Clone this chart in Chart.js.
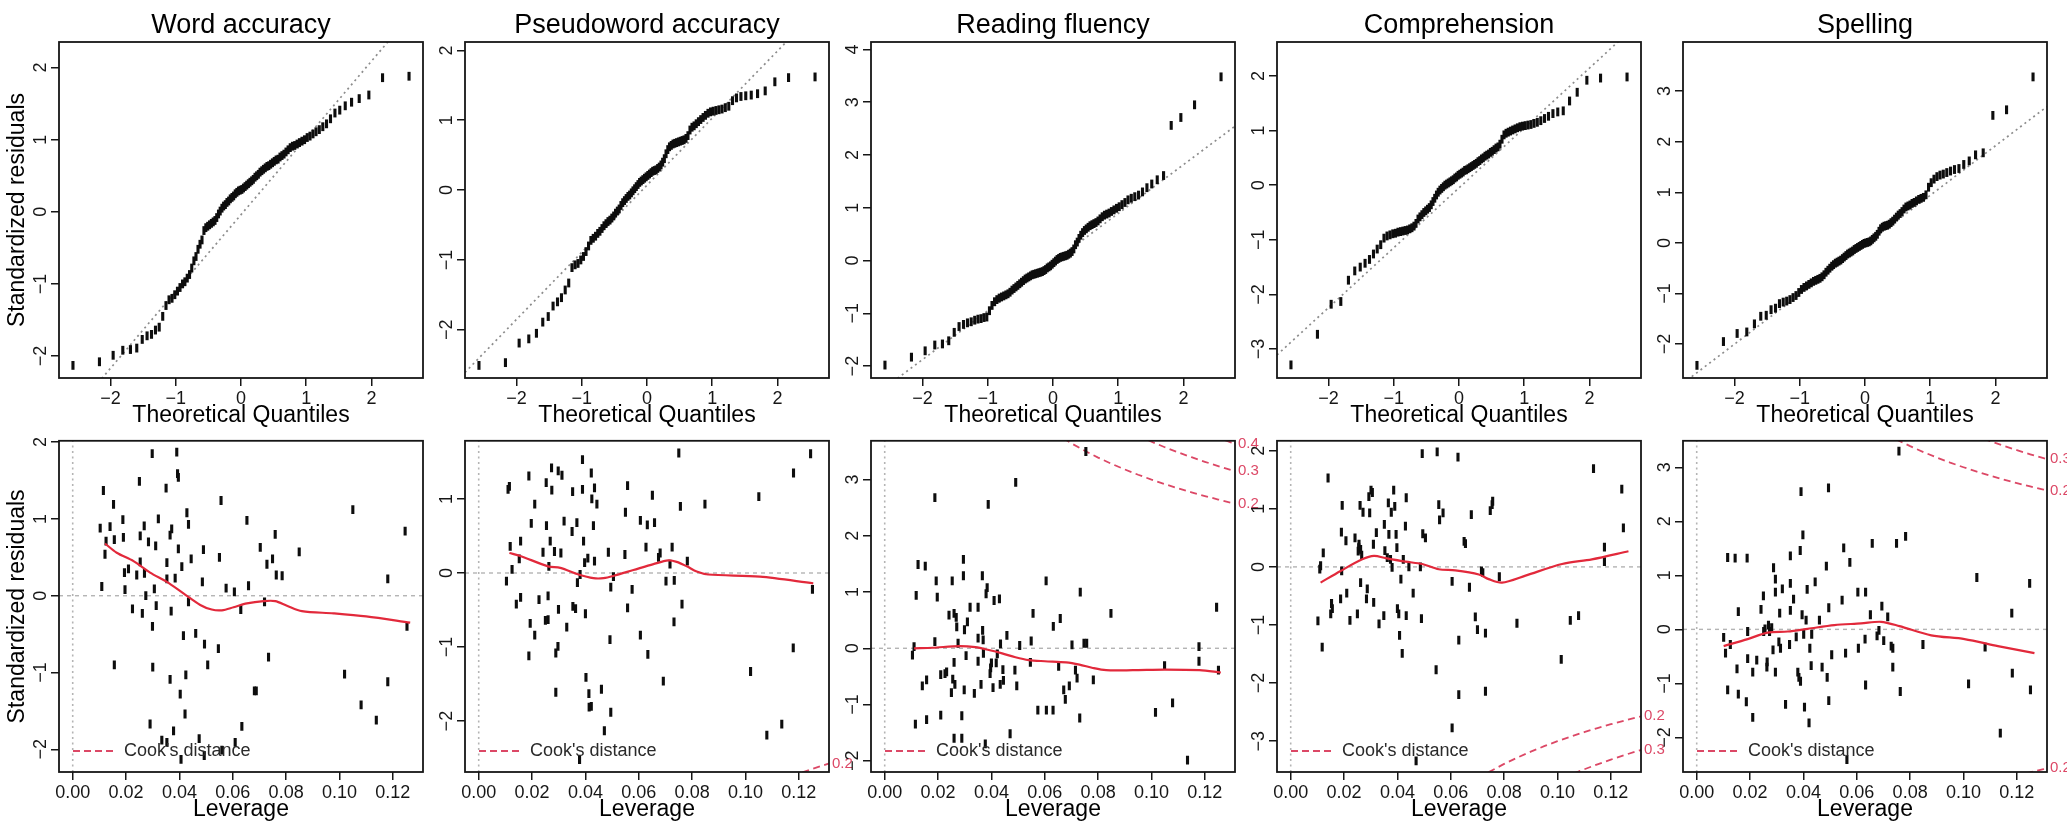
<!DOCTYPE html>
<html><head><meta charset="utf-8">
<script src="https://cdn.jsdelivr.net/npm/chart.js@4.4.0/dist/chart.umd.min.js"></script>
<style>
html,body{margin:0;padding:0;background:#fff;}
#wrap{position:relative;width:2067px;height:830px;overflow:hidden;background:#fff;}
#wrap canvas{position:absolute;}
</style></head>
<body><div id="wrap"></div>
<script>
// ---------- categories / labels ----------
const titles = ['Word accuracy','Pseudoword accuracy','Reading fluency','Comprehension','Spelling'];
const qqXTitle = 'Theoretical Quantiles';
const levXTitle = 'Leverage';
const yTitle = 'Standardized residuals';
const qqXTicks = [-2,-1,0,1,2];
const levXTicks = [0,0.02,0.04,0.06,0.08,0.10,0.12];
const qqYTicks = [[-2,-1,0,1,2],[-2,-1,0,1,2],[-2,-1,0,1,2,3,4],[-3,-2,-1,0,1,2],[-2,-1,0,1,2,3]];
const levYTicks = [[-2,-1,0,1,2],[-2,-1,0,1],[-2,-1,0,1,2,3],[-3,-2,-1,0,1,2],[-2,-1,0,1,2,3]];
const qqXRange = [-2.79,2.79];
const levXRange = [-0.00514,0.1313];
const qqYRange = [[-2.305,2.355],[-2.69,2.12],[-2.225,4.14],[-3.53,2.62],[-2.67,3.97]];
const levYRange = [[-2.295,2.017],[-2.687,1.785],[-2.20,3.69],[-3.53,2.17],[-2.64,3.49]];

// ---------- Q-Q data ----------
const theoQ = [-2.576,-2.170,-1.960,-1.812,-1.695,-1.598,-1.514,-1.440,-1.372,-1.311,-1.254,-1.200,-1.150,-1.103,-1.058,-1.015,-0.974,-0.935,-0.896,-0.860,-0.824,-0.789,-0.755,-0.722,-0.690,-0.659,-0.628,-0.598,-0.568,-0.539,-0.510,-0.482,-0.454,-0.426,-0.399,-0.372,-0.345,-0.319,-0.292,-0.266,-0.240,-0.215,-0.189,-0.164,-0.138,-0.113,-0.088,-0.063,-0.038,-0.013,
0.013,0.038,0.063,0.088,0.113,0.138,0.164,0.189,0.215,0.240,0.266,0.292,0.319,0.345,0.372,0.399,0.426,0.454,0.482,0.510,0.539,0.568,0.598,0.628,0.659,0.690,0.722,0.755,0.789,0.824,0.860,0.896,0.935,0.974,1.015,1.058,1.103,1.150,1.200,1.254,1.311,1.372,1.440,1.514,1.598,1.695,1.812,1.960,2.170,2.576];

const qqWord = [-2.13,-2.08,-1.99,-1.92,-1.91,-1.89,-1.77,-1.72,-1.70,-1.64,
-1.60,-1.45,-1.30,-1.22,-1.20,-1.15,-1.10,-1.05,-1.00,-0.97,
-0.92,-0.87,-0.78,-0.68,-0.62,-0.52,-0.45,-0.39,-0.26,-0.22,
-0.20,-0.18,-0.16,-0.14,-0.12,-0.08,-0.03,0.01,0.05,0.08,
0.10,0.13,0.15,0.18,0.20,0.22,0.25,0.27,0.29,0.30,
0.31,0.33,0.35,0.37,0.39,0.41,0.43,0.45,0.48,0.50,
0.52,0.55,0.57,0.59,0.61,0.63,0.64,0.66,0.68,0.70,
0.72,0.73,0.76,0.78,0.80,0.83,0.86,0.89,0.91,0.92,
0.94,0.96,0.98,1.00,1.03,1.05,1.08,1.11,1.14,1.18,
1.22,1.29,1.37,1.41,1.47,1.52,1.57,1.62,1.86,1.88];

const qqPseudo = [-2.51,-2.47,-2.19,-2.13,-2.05,-1.89,-1.81,-1.66,-1.60,-1.54,
-1.43,-1.33,-1.11,-1.07,-1.05,-1.00,-0.95,-0.88,-0.80,-0.72,
-0.69,-0.66,-0.62,-0.59,-0.55,-0.51,-0.48,-0.45,-0.43,-0.40,
-0.37,-0.33,-0.30,-0.27,-0.22,-0.18,-0.15,-0.12,-0.09,-0.07,
-0.04,-0.01,0.02,0.05,0.08,0.11,0.13,0.15,0.17,0.19,
0.21,0.23,0.25,0.27,0.28,0.29,0.31,0.33,0.36,0.40,
0.45,0.52,0.58,0.62,0.64,0.66,0.67,0.68,0.69,0.70,
0.71,0.72,0.74,0.78,0.86,0.90,0.92,0.95,0.98,1.01,
1.04,1.07,1.10,1.12,1.13,1.14,1.15,1.16,1.18,1.20,
1.28,1.32,1.34,1.35,1.36,1.38,1.42,1.55,1.61,1.62];

const qqFluency = [-1.98,-1.83,-1.71,-1.60,-1.58,-1.52,-1.36,-1.25,-1.21,-1.18,
-1.16,-1.13,-1.11,-1.10,-1.08,-1.07,-0.95,-0.85,-0.78,-0.74,
-0.71,-0.69,-0.67,-0.65,-0.63,-0.60,-0.56,-0.53,-0.50,-0.47,
-0.44,-0.41,-0.38,-0.35,-0.33,-0.31,-0.29,-0.27,-0.26,-0.25,
-0.24,-0.23,-0.22,-0.21,-0.19,-0.17,-0.14,-0.12,-0.10,-0.07,
-0.04,-0.01,0.02,0.04,0.06,0.07,0.08,0.09,0.10,0.12,
0.14,0.17,0.22,0.30,0.35,0.42,0.48,0.53,0.57,0.60,
0.63,0.66,0.68,0.70,0.72,0.75,0.79,0.83,0.86,0.88,
0.90,0.93,0.96,0.99,1.02,1.06,1.10,1.15,1.18,1.21,
1.24,1.30,1.38,1.45,1.53,1.61,2.56,2.71,2.95,3.48];

const qqComp = [-3.29,-2.73,-2.18,-2.13,-1.74,-1.57,-1.50,-1.43,-1.36,-1.26,
-1.17,-1.09,-0.97,-0.93,-0.91,-0.89,-0.88,-0.86,-0.85,-0.84,
-0.83,-0.82,-0.80,-0.78,-0.75,-0.70,-0.62,-0.58,-0.54,-0.50,
-0.47,-0.44,-0.41,-0.36,-0.30,-0.24,-0.18,-0.13,-0.09,-0.06,
-0.03,0.00,0.02,0.04,0.06,0.08,0.10,0.13,0.15,0.18,
0.20,0.22,0.24,0.27,0.28,0.30,0.32,0.34,0.36,0.38,
0.40,0.43,0.45,0.48,0.50,0.53,0.55,0.57,0.60,0.62,
0.65,0.68,0.70,0.75,0.84,0.92,0.95,0.97,0.99,1.01,
1.03,1.05,1.07,1.08,1.09,1.10,1.11,1.13,1.15,1.18,
1.22,1.26,1.31,1.34,1.36,1.54,1.70,1.92,1.96,1.98];

const qqSpell = [-2.42,-1.95,-1.79,-1.76,-1.60,-1.45,-1.43,-1.32,-1.29,-1.20,
-1.17,-1.15,-1.12,-1.08,-1.04,-0.98,-0.92,-0.88,-0.85,-0.82,
-0.79,-0.76,-0.74,-0.72,-0.70,-0.67,-0.63,-0.58,-0.54,-0.50,
-0.46,-0.43,-0.40,-0.38,-0.36,-0.34,-0.31,-0.28,-0.25,-0.22,
-0.20,-0.18,-0.16,-0.13,-0.11,-0.09,-0.07,-0.05,-0.03,-0.01,
0.00,0.01,0.02,0.04,0.07,0.10,0.13,0.17,0.23,0.28,
0.31,0.33,0.34,0.35,0.37,0.40,0.43,0.47,0.51,0.55,
0.58,0.62,0.67,0.71,0.73,0.75,0.78,0.80,0.83,0.86,
0.88,0.90,0.95,1.10,1.19,1.26,1.31,1.34,1.36,1.39,
1.42,1.45,1.47,1.55,1.62,1.74,1.78,2.52,2.63,3.28];

// reference lines of the Q-Q plots (two end points each)
const qqLineWord = [[-2.79,-3.01],[2.79,2.93]];
const qqLinePseudo = [[-2.79,-2.61],[2.79,2.75]];
const qqLineFluency = [[-2.79,-2.605],[2.79,2.545]];
const qqLineComp = [[-2.79,-3.108],[2.79,3.008]];
const qqLineSpell = [[-2.79,-2.774],[2.79,2.694]];

// ---------- Residuals vs leverage data [leverage, std. residual] ----------
const levWord = [[0.0103,0.88],[0.0109,0.12],[0.0115,1.37],[0.0121,0.54],[0.0125,0.71],[0.014,0.90],[0.0153,1.19],[0.0156,0.73],[0.0156,-0.90],[0.0188,0.99],[0.019,0.76],[0.0194,0.30],[0.0196,0.08],[0.0209,0.35],[0.0224,-0.17],[0.024,0.27],[0.025,1.49],[0.0253,0.78],[0.0253,0.44],[0.0261,-0.23],[0.0268,0.91],[0.0269,0.29],[0.0274,0.0],[0.0284,0.70],[0.029,-1.67],[0.0298,1.85],[0.0299,-0.40],[0.03,-0.93],[0.0306,0.09],[0.0311,0.65],[0.0313,-0.13],[0.0321,1.0],[0.0334,-1.88],[0.035,1.40],[0.0353,0.43],[0.0353,0.22],[0.0353,-1.91],[0.0365,0.79],[0.0369,-0.20],[0.0371,0.87],[0.0365,-1.09],[0.0378,-1.76],[0.0384,0.23],[0.039,1.87],[0.0393,1.59],[0.0396,1.54],[0.0396,0.61],[0.0403,-1.28],[0.0406,-2.13],[0.0409,0.38],[0.0415,-0.52],[0.0421,-1.54],[0.0424,-1.03],[0.0428,1.08],[0.0434,0.93],[0.0434,-0.08],[0.0444,0.48],[0.0461,-0.49],[0.0474,-1.86],[0.0486,0.18],[0.049,0.60],[0.0494,-0.63],[0.0493,-2.08],[0.0506,-0.90],[0.0546,-0.69],[0.055,0.50],[0.0556,1.24],[0.0559,-2.01],[0.0575,0.10],[0.0606,0.05],[0.0609,-1.91],[0.063,-0.18],[0.0634,-1.70],[0.0653,0.98],[0.0659,0.13],[0.0681,-1.24],[0.0688,-1.24],[0.0703,0.63],[0.0719,-0.08],[0.0728,0.41],[0.0734,-0.80],[0.0749,0.48],[0.0759,0.80],[0.0763,0.27],[0.0785,0.26],[0.0849,0.57],[0.1019,-1.02],[0.105,1.12],[0.1081,-1.42],[0.1138,-1.62],[0.1181,0.22],[0.1181,-1.12],[0.1246,0.84],[0.1253,-0.40]];
const smoothWord = [[0.0121,0.68],[0.0165,0.56],[0.0228,0.45],[0.029,0.30],[0.0353,0.18],[0.0415,0.03],[0.0478,-0.12],[0.0521,-0.18],[0.0559,-0.19],[0.0603,-0.15],[0.0653,-0.10],[0.0715,-0.07],[0.0759,-0.07],[0.0803,-0.13],[0.0859,-0.20],[0.0978,-0.23],[0.110,-0.27],[0.1265,-0.35]];

const levPseudo = [[0.0104,-0.11],[0.011,1.13],[0.0115,1.17],[0.0118,0.36],[0.0125,0.05],[0.0141,-0.42],[0.0152,0.19],[0.0157,0.43],[0.0157,-0.33],[0.0188,1.31],[0.0188,-1.12],[0.0193,-0.68],[0.0197,0.67],[0.021,0.93],[0.021,-0.84],[0.0226,-0.36],[0.0241,0.28],[0.025,-0.64],[0.0253,1.22],[0.0254,0.64],[0.026,-0.31],[0.026,-0.63],[0.0263,0.09],[0.0268,0.43],[0.0273,1.42],[0.0274,1.12],[0.0284,0.29],[0.0289,-1.08],[0.0289,-1.61],[0.0297,-0.99],[0.0298,1.38],[0.0299,-0.49],[0.0308,0.27],[0.0312,1.32],[0.032,0.70],[0.033,-0.73],[0.035,0.56],[0.0352,1.10],[0.0353,-0.45],[0.0363,-0.48],[0.0368,0.68],[0.037,-0.13],[0.038,-0.02],[0.0389,1.53],[0.0389,1.13],[0.0393,0.43],[0.0397,0.14],[0.04,-0.55],[0.0402,-1.41],[0.0409,0.20],[0.0413,-1.63],[0.0414,-1.81],[0.0422,1.35],[0.0422,-1.80],[0.0424,1.00],[0.043,0.64],[0.0434,1.15],[0.0434,0.16],[0.0443,0.93],[0.046,-1.57],[0.0471,-2.13],[0.0486,0.28],[0.0492,-0.90],[0.0495,-0.19],[0.0495,-1.88],[0.0505,-0.05],[0.0548,0.25],[0.055,0.82],[0.0558,1.18],[0.0558,-0.47],[0.0575,-0.22],[0.0606,0.71],[0.0606,-0.84],[0.0627,0.35],[0.0632,0.65],[0.0634,-1.10],[0.0651,1.05],[0.0659,0.68],[0.0674,0.21],[0.068,0.27],[0.0692,-1.46],[0.0702,-0.11],[0.0717,0.12],[0.0725,0.35],[0.0732,-0.66],[0.0733,-0.10],[0.075,1.62],[0.0756,0.90],[0.0762,-0.42],[0.0782,0.16],[0.0848,0.93],[0.1019,-1.33],[0.105,1.03],[0.108,-2.19],[0.1136,-2.04],[0.1179,-1.01],[0.118,1.35],[0.1244,1.61],[0.1251,-0.22],[0.0378,-2.52]];
const smoothPseudo = [[0.0115,0.27],[0.0156,0.23],[0.026,0.09],[0.0306,0.07],[0.0374,-0.02],[0.043,-0.07],[0.0468,-0.07],[0.0505,-0.04],[0.058,0.04],[0.0655,0.12],[0.0711,0.17],[0.0742,0.15],[0.078,0.09],[0.0817,0.02],[0.086,-0.02],[0.1054,-0.05],[0.1254,-0.14]];

const levFluency = [[0.0104,-0.12],[0.011,0.03],[0.0115,-1.35],[0.0118,0.94],[0.0125,1.49],[0.0141,-0.67],[0.0152,1.46],[0.0157,-0.56],[0.0157,-1.27],[0.0188,2.68],[0.0188,0.12],[0.0193,1.20],[0.0197,0.91],[0.021,-0.47],[0.021,-1.19],[0.0226,-0.45],[0.0241,0.59],[0.025,-0.79],[0.0253,1.20],[0.026,0.62],[0.026,-0.25],[0.026,-1.60],[0.0263,-0.64],[0.027,0.38],[0.0275,0.09],[0.0289,-1.60],[0.0289,-1.20],[0.0295,1.58],[0.0295,1.29],[0.0298,-0.74],[0.0305,-0.13],[0.031,0.47],[0.032,0.73],[0.035,0.73],[0.035,0.18],[0.035,-0.23],[0.0361,-0.64],[0.0366,1.29],[0.0367,0.32],[0.037,-0.09],[0.038,0.97],[0.0384,1.08],[0.0388,2.56],[0.0377,-1.70],[0.0397,-0.35],[0.04,-0.26],[0.0406,-0.70],[0.041,0.85],[0.0418,-0.26],[0.0422,-0.10],[0.043,0.88],[0.0434,0.08],[0.0433,-0.64],[0.0443,-0.38],[0.0458,0.23],[0.047,-1.52],[0.0488,-0.39],[0.0491,2.95],[0.0495,-0.67],[0.0506,0.05],[0.0546,-0.25],[0.0549,0.13],[0.0556,0.62],[0.0574,-1.10],[0.0605,1.20],[0.0606,-1.10],[0.0631,-1.10],[0.0632,0.39],[0.0652,-0.32],[0.0658,0.53],[0.0671,-0.74],[0.0677,-0.91],[0.0692,-0.67],[0.0702,0.06],[0.0715,-0.39],[0.0721,-0.53],[0.0731,-1.24],[0.0733,1.00],[0.0747,0.09],[0.0754,3.50],[0.0757,0.09],[0.0782,-0.56],[0.0848,0.62],[0.1015,-1.14],[0.1049,-0.31],[0.1079,-0.97],[0.1135,-1.99],[0.1178,0.03],[0.1178,-0.23],[0.1244,0.73],[0.1251,-0.39],[0.0255,-0.55],[0.0232,-0.42],[0.0336,-0.80],[0.0299,0.33],[0.0395,-0.45],[0.0445,-0.57],[0.0268,0.55],[0.0369,0.15]];
const smoothFluency = [[0.011,0.0],[0.018,0.01],[0.028,0.04],[0.034,0.02],[0.039,-0.03],[0.044,-0.09],[0.049,-0.16],[0.054,-0.21],[0.060,-0.23],[0.068,-0.25],[0.073,-0.29],[0.078,-0.35],[0.083,-0.39],[0.093,-0.39],[0.105,-0.38],[0.118,-0.39],[0.126,-0.43]];

const levComp = [[0.0102,-0.93],[0.0109,-0.04],[0.0112,0.02],[0.0118,-1.38],[0.0122,0.24],[0.014,1.53],[0.015,-0.81],[0.0153,-0.63],[0.0156,-0.72],[0.0187,-0.55],[0.0191,-0.07],[0.0193,1.06],[0.019,0.60],[0.0207,0.45],[0.021,-0.45],[0.0222,-0.92],[0.0241,0.50],[0.025,-0.81],[0.0253,0.27],[0.0256,0.39],[0.026,1.06],[0.0262,-0.27],[0.0266,0.20],[0.0271,0.94],[0.0284,-0.55],[0.0287,-0.38],[0.0293,1.21],[0.0296,0.93],[0.0301,1.32],[0.0306,1.28],[0.031,0.39],[0.0311,-0.61],[0.0321,0.59],[0.0331,-0.98],[0.0349,-0.84],[0.0351,0.73],[0.0353,0.28],[0.0362,0.16],[0.0366,1.10],[0.0368,0.56],[0.0374,0.13],[0.0377,0.94],[0.038,-0.01],[0.0386,1.32],[0.039,1.04],[0.0395,0.56],[0.0398,0.33],[0.04,-0.72],[0.0405,-0.81],[0.0408,-1.18],[0.0413,-0.21],[0.0418,-1.49],[0.0422,0.13],[0.043,0.70],[0.0433,1.19],[0.0433,-0.84],[0.0443,0.0],[0.0459,-0.45],[0.047,-3.34],[0.0486,0.0],[0.049,-0.89],[0.0493,1.95],[0.0495,0.57],[0.0505,0.50],[0.0545,-1.77],[0.0549,1.98],[0.0555,1.07],[0.0558,0.81],[0.0571,0.93],[0.0605,-0.25],[0.0605,-2.77],[0.0627,1.89],[0.063,-1.26],[0.063,-2.20],[0.065,0.44],[0.0655,0.40],[0.067,-0.35],[0.0677,0.90],[0.0692,-0.86],[0.07,-1.08],[0.0715,-0.07],[0.072,-0.10],[0.073,-1.14],[0.073,-2.14],[0.0748,0.97],[0.0755,1.07],[0.0757,1.13],[0.0782,-0.17],[0.0848,-0.97],[0.1014,-1.59],[0.1048,-0.92],[0.1079,-0.84],[0.1135,1.69],[0.1176,0.34],[0.1176,0.09],[0.1241,1.34],[0.1247,0.67],[0.0255,0.33],[0.0262,0.30]];
const smoothComp = [[0.0112,-0.27],[0.0187,-0.07],[0.0268,0.13],[0.0312,0.19],[0.0356,0.15],[0.043,0.09],[0.0493,0.05],[0.0555,-0.04],[0.0617,-0.06],[0.0705,-0.13],[0.0742,-0.21],[0.0792,-0.27],[0.088,-0.15],[0.1017,0.05],[0.1129,0.13],[0.1266,0.27]];

const levSpell = [[0.0101,-0.15],[0.0108,-0.44],[0.0116,1.33],[0.0116,-1.12],[0.0126,-0.28],[0.0144,1.32],[0.0151,-0.73],[0.0156,0.33],[0.0156,-1.20],[0.0189,1.32],[0.0191,-0.04],[0.0191,-0.54],[0.0186,-1.34],[0.021,-0.79],[0.021,-1.63],[0.0225,-0.57],[0.0241,0.37],[0.025,0.62],[0.0251,-0.04],[0.0256,0.01],[0.0263,-0.70],[0.0264,-0.60],[0.0269,0.08],[0.0273,-0.04],[0.0281,0.03],[0.0286,-0.38],[0.0288,1.14],[0.0295,0.93],[0.0295,0.69],[0.0295,-0.79],[0.0308,-0.23],[0.0311,0.30],[0.0314,-0.35],[0.0321,0.75],[0.0333,-1.39],[0.0348,-0.28],[0.0351,1.36],[0.0351,0.85],[0.0351,0.35],[0.0363,0.56],[0.0373,-0.14],[0.0379,-0.79],[0.0383,-0.89],[0.0388,1.46],[0.0389,-0.96],[0.0391,2.55],[0.0395,0.27],[0.0398,1.75],[0.0401,-0.09],[0.0404,-1.44],[0.041,0.17],[0.0414,0.74],[0.0421,-1.73],[0.0424,-0.35],[0.0429,-0.67],[0.0431,-0.09],[0.0444,0.88],[0.046,0.17],[0.047,-0.70],[0.0486,1.17],[0.0489,-0.89],[0.0494,2.62],[0.0495,0.40],[0.0495,-1.32],[0.0506,-0.47],[0.0545,0.54],[0.0551,1.51],[0.0558,-0.44],[0.0563,-2.41],[0.0574,1.24],[0.0604,0.69],[0.0606,-0.35],[0.0631,-0.18],[0.0633,0.69],[0.0633,-1.03],[0.0651,0.27],[0.0658,1.59],[0.0676,-0.12],[0.0683,-0.02],[0.0694,0.43],[0.0701,-0.21],[0.0716,0.23],[0.0729,-0.31],[0.0735,-0.35],[0.0735,-0.70],[0.0749,1.59],[0.0758,3.30],[0.0763,-1.15],[0.0783,1.72],[0.0848,-0.28],[0.1019,-1.01],[0.105,0.96],[0.1081,-0.33],[0.1138,-1.92],[0.1181,0.30],[0.1183,-0.81],[0.1248,0.85],[0.1251,-1.12]];
const smoothSpell = [[0.0101,-0.31],[0.0191,-0.18],[0.0266,-0.06],[0.0341,-0.04],[0.0416,0.01],[0.0516,0.08],[0.0616,0.11],[0.0691,0.14],[0.076,0.06],[0.0879,-0.11],[0.1004,-0.18],[0.1129,-0.31],[0.1266,-0.44]];

// ---------- Cook's distance contours (leverage, |std. residual|) ----------
const cookH = [0.050,0.055,0.060,0.065,0.070,0.075,0.080,0.085,0.090,0.095,0.100,0.105,0.110,0.115,0.120,0.125,0.130,0.135];
const cook02 = [4.359,4.145,3.958,3.793,3.645,3.512,3.391,3.281,3.180,3.086,3.000,2.920,2.844,2.774,2.708,2.646,2.587,2.531];
const cook03 = [5.339,5.077,4.848,4.645,4.464,4.301,4.153,4.018,3.894,3.780,3.674,3.576,3.484,3.398,3.317,3.240,3.168,3.100];
const cook04 = [6.164,5.862,5.598,5.364,5.155,4.967,4.796,4.640,4.497,4.365,4.243,4.129,4.023,3.923,3.830,3.742,3.659,3.580];
const cookLevels = ['0.2','0.3','0.4'];
const cookLabelAt = [2.572,3.150,3.638];

const qqSeries = [qqWord,qqPseudo,qqFluency,qqComp,qqSpell];
const qqLines = [qqLineWord,qqLinePseudo,qqLineFluency,qqLineComp,qqLineSpell];
const levSeries = [levWord,levPseudo,levFluency,levComp,levSpell];
const smoothSeries = [smoothWord,smoothPseudo,smoothFluency,smoothComp,smoothSpell];

// ---------- styling ----------
const FONT = "'Liberation Sans', Arial, Helvetica, sans-serif";
const INK = '#161616';
const RED = '#E2293B';
const RED_D = '#DC4866';
const GREY = '#8c8c8c';
const GREY_L = '#b4b4b4';

const fmtY = v => (v < 0 ? '\u2212' + Math.abs(v) : String(v));
const fmtLev = v => v.toFixed(2);

const decoPlugin = {
  id: 'deco',
  afterDraw(chart, args, o) {
    const {ctx, chartArea: a} = chart;
    ctx.save();
    ctx.setLineDash([]);
    if (o.legend) {
      const y = a.bottom - 21;
      ctx.strokeStyle = RED_D; ctx.lineWidth = 2; ctx.setLineDash([7, 4]);
      ctx.beginPath(); ctx.moveTo(a.left + 14, y); ctx.lineTo(a.left + 55, y); ctx.stroke();
      ctx.setLineDash([]);
      ctx.fillStyle = '#2a2a2a'; ctx.font = '18px ' + FONT; ctx.textAlign = 'left'; ctx.textBaseline = 'middle';
      ctx.fillText("Cook's distance", a.left + 65, y);
    }
    if (o.cook) {
      const ys = chart.scales.y;
      ctx.fillStyle = RED_D; ctx.font = '15px ' + FONT; ctx.textAlign = 'left'; ctx.textBaseline = 'middle';
      cookLabelAt.forEach((v, i) => {
        [v, -v].forEach(val => {
          if (val >= ys.min && val <= ys.max) ctx.fillText(cookLevels[i], a.right + 3, ys.getPixelForValue(val));
        });
      });
    }
    ctx.strokeStyle = INK; ctx.lineWidth = 1.8;
    ctx.strokeRect(a.left, a.top, a.right - a.left, a.bottom - a.top);
    if (o.title) {
      ctx.fillStyle = '#000'; ctx.font = '27px ' + FONT; ctx.textAlign = 'center'; ctx.textBaseline = 'alphabetic';
      ctx.fillText(o.title, (a.left + a.right) / 2, a.top - 9);
    }
    ctx.restore();
  }
};

const wrap = document.getElementById('wrap');
const pts = arr => arr.map(p => ({x: p[0], y: p[1]}));

function makePanel(cfg) {
  const cv = document.createElement('canvas');
  cv.width = cfg.width; cv.height = cfg.height;
  cv.style.left = cfg.left + 'px'; cv.style.top = cfg.top + 'px';
  cv.style.width = cfg.width + 'px'; cv.style.height = cfg.height + 'px';
  wrap.appendChild(cv);
  new Chart(cv, {
    type: 'scatter',
    data: {datasets: cfg.datasets},
    options: {
      responsive: false, animation: false, devicePixelRatio: 1, events: [],
      layout: {autoPadding: false, padding: {left: 0, right: cfg.width - 59 - 364, top: cfg.padTop, bottom: 0}},
      plugins: {legend: {display: false}, tooltip: {enabled: false}, deco: cfg.deco},
      scales: {
        x: {
          type: 'linear', position: 'bottom', min: cfg.xRange[0], max: cfg.xRange[1],
          afterBuildTicks: s => { s.ticks = cfg.xTicks.map(v => ({value: v})); },
          afterFit: s => { s.height = cfg.bottomH; },
          grid: {drawOnChartArea: false, drawTicks: true, tickLength: 8, color: INK, lineWidth: 1.5},
          border: {display: false},
          ticks: {autoSkip: false, maxRotation: 0, minRotation: 0, padding: 2, color: INK,
                  font: {family: FONT, size: 18}, callback: v => cfg.xFmt(v)},
          title: {display: true, text: cfg.xTitle, color: '#000', font: {family: FONT, size: 23},
                  padding: {top: 0, bottom: cfg.xTitlePad}}
        },
        y: {
          type: 'linear', position: 'left', min: cfg.yRange[0], max: cfg.yRange[1],
          afterBuildTicks: s => { s.ticks = cfg.yTicks.map(v => ({value: v})); },
          afterFit: s => { s.width = 59; },
          grid: {drawOnChartArea: false, drawTicks: true, tickLength: 8, color: INK, lineWidth: 1.5},
          border: {display: false},
          ticks: {autoSkip: false, minRotation: 90, maxRotation: 90, crossAlign: 'center', padding: 0,
                  color: INK, font: {family: FONT, size: 18}, callback: v => fmtY(v)},
          title: {display: !!cfg.yTitle, text: cfg.yTitle || '', color: '#000', font: {family: FONT, size: 23},
                  padding: {top: 4, bottom: 0}}
        }
      }
    },
    plugins: [decoPlugin]
  });
}

const pointStyleOpts = {
  showLine: false, pointStyle: 'line', pointRotation: 90, pointRadius: 4.4,
  pointBorderWidth: 3.1, pointBorderColor: '#0d0d0d', pointBackgroundColor: '#0d0d0d'
};

for (let c = 0; c < 5; c++) {
  // Normal Q-Q
  makePanel({
    left: 406 * c, top: 0, width: 463, height: 435, padTop: 42, bottomH: 57, xTitlePad: 6,
    xRange: qqXRange, yRange: qqYRange[c], xTicks: qqXTicks, yTicks: qqYTicks[c],
    xFmt: fmtY, xTitle: qqXTitle, yTitle: c === 0 ? yTitle : null,
    deco: {title: titles[c]},
    datasets: [
      Object.assign({data: theoQ.map((x, i) => ({x: x, y: qqSeries[c][i]})), order: 1}, pointStyleOpts),
      {data: pts(qqLines[c]), showLine: true, borderColor: GREY, borderWidth: 1.7, borderDash: [2, 3.5],
       pointRadius: 0, order: 2}
    ]
  });
  // Residuals vs Leverage
  const ds = [
    {data: pts(smoothSeries[c]), showLine: true, borderColor: RED, borderWidth: 2.2, tension: 0.3,
     pointRadius: 0, order: 0},
    Object.assign({data: pts(levSeries[c]), order: 1}, pointStyleOpts)
  ];
  [cook02, cook03, cook04].forEach(curve => {
    [1, -1].forEach(sgn => {
      ds.push({data: cookH.map((h, i) => ({x: h, y: sgn * curve[i]})), showLine: true, borderColor: RED_D,
               borderWidth: 1.8, borderDash: [7, 4.5], pointRadius: 0, order: 2});
    });
  });
  ds.push({data: [{x: levXRange[0], y: 0}, {x: levXRange[1], y: 0}], showLine: true, borderColor: GREY_L,
           borderWidth: 1.4, borderDash: [4, 4], pointRadius: 0, order: 3});
  ds.push({data: [{x: 0, y: levYRange[c][0]}, {x: 0, y: levYRange[c][1]}], showLine: true, borderColor: GREY_L,
           borderWidth: 1.6, borderDash: [2, 3.5], pointRadius: 0, order: 3});
  makePanel({
    left: 406 * c, top: 430, width: 463, height: 400, padTop: 7, bottomH: 58, xTitlePad: 7,
    xRange: levXRange, yRange: levYRange[c], xTicks: levXTicks, yTicks: levYTicks[c],
    xFmt: fmtLev, xTitle: levXTitle, yTitle: c === 0 ? yTitle : null,
    deco: {legend: true, cook: true},
    datasets: ds
  });
}
</script>
</body></html>
